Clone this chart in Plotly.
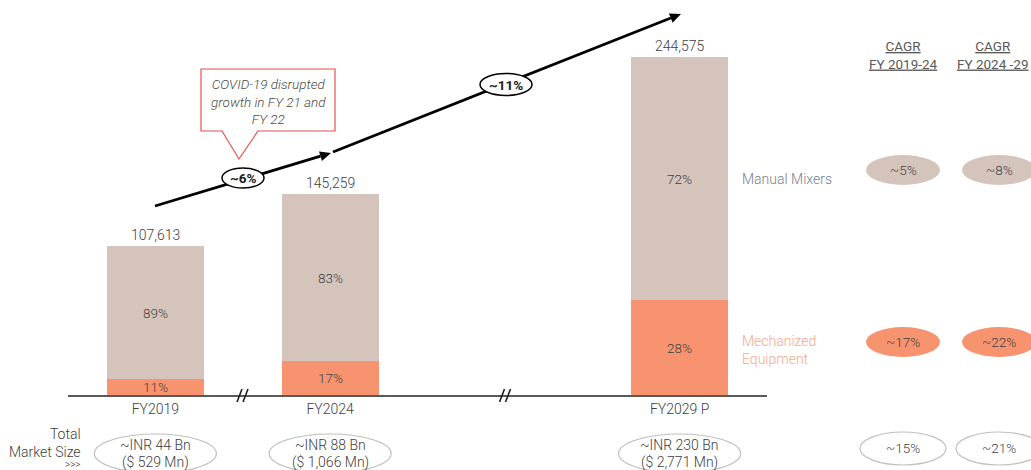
import math
import plotly.graph_objects as go

# ---- data -------------------------------------------------------------
years = ["FY2019", "FY2024", "FY2029 P"]
slots = ["FY2019", "FY2024", "gap", "FY2029 P"]      # "gap" = axis break slot
slot_labels = ["FY2019", "FY2024", "", "FY2029 P"]
totals = [107613, 145259, 244575]                     # total market
mech_share = [11, 17, 28]                             # % Mechanized Equipment
manual_share = [89, 83, 72]                           # % Manual Mixers
inr_size = ["~INR 44 Bn", "~INR 88 Bn", "~INR 230 Bn"]
usd_size = ["($ 529 Mn)", "($ 1,066 Mn)", "($ 2,771 Mn)"]
cagr_periods = ["FY 2019-24", "FY 2024 -29"]
cagr_manual = ["~5%", "~8%"]
cagr_mech = ["~17%", "~22%"]
cagr_total = ["~15%", "~21%"]
overall_cagr = ["~6%", "~11%"]
covid_note = "COVID-19 disrupted<br>growth in FY 21 and<br>FY 22"

mech_vals = [t * s / 100 for t, s in zip(totals, mech_share)]
manual_vals = [t * s / 100 for t, s in zip(totals, manual_share)]

# ---- styling ------------------------------------------------------------
W, H = 1031, 470
FONT = "Roboto"
TXT = "#404040"
TAUPE = "#D5C4BB"
SALMON = "#F8936F"
AXIS = "#595959"
SLOT_PX = 175          # pixel width of one category slot
AXIS_LEFT = 68         # pixel where the category axis starts


def px(x):
    return x / W


def py(y):
    return 1 - y / H


ann = []
shapes = []


def label(text, x, y, xref="paper", yref="paper", size=13.5, color=TXT, weight=300, **kw):
    d = dict(x=x, y=y, xref=xref, yref=yref, text=text, showarrow=False,
             xanchor="center", yanchor="middle",
             font=dict(family=FONT, size=size, color=color, weight=weight))
    d.update(kw)
    ann.append(d)


fig = go.Figure()
fig.add_trace(go.Bar(x=years, y=mech_vals, marker=dict(color=SALMON, line_width=0),
                     width=0.554, hoverinfo="skip", name="Mechanized Equipment"))
fig.add_trace(go.Bar(x=years, y=manual_vals, marker=dict(color=TAUPE, line_width=0),
                     width=0.554, hoverinfo="skip", name="Manual Mixers"))

# segment percentages, totals and market size badges
for i, yr in enumerate(years):
    label(f"{mech_share[i]}%", yr, mech_vals[i] / 2, xref="x", yref="y")
    label(f"{manual_share[i]}%", yr, mech_vals[i] + manual_vals[i] / 2, xref="x", yref="y")
    label(f"{totals[i]:,}", yr, totals[i], xref="x", yref="y", yanchor="bottom", yshift=1, size=14)
    shapes.append(dict(type="circle", xref="x", xsizemode="pixel", xanchor=slots.index(yr),
                       x0=-61, x1=61, yref="paper", y0=py(473), y1=py(434),
                       line=dict(color="#BFBFBF", width=1.2), fillcolor="rgba(0,0,0,0)"))
    label(inr_size[i], yr, py(445), xref="x", size=14)
    label(usd_size[i], yr, py(462), xref="x", size=14)

# axis break marks ("//")
for slot in [0.5, 2]:
    cx = AXIS_LEFT + (slot + 0.5) * SLOT_PX
    for dx in [-3.5, 2.5]:
        shapes.append(dict(type="line", xref="paper", yref="paper",
                           x0=px(cx + dx - 2.5), y0=py(402), x1=px(cx + dx + 2.5), y1=py(389),
                           line=dict(color="#202020", width=1.6)))

# series labels
label("Manual Mixers", px(740), py(179), xanchor="left", color="#78808A", size=14)
label("Mechanized<br>Equipment", px(740), py(350), xanchor="left", align="left",
      color="#F9A88B", size=14)

# left labels
label("Total<br>Market Size", px(83), py(443), xanchor="right", align="right", size=14)
label("&gt;&gt;&gt;", px(83), py(464), xanchor="right", size=10)

# CAGR columns
cagr_x = [903, 999]
for j in range(2):
    cx = cagr_x[j]
    label(f"<u>CAGR</u><br><u>{cagr_periods[j]}</u>", px(min(cx, 993)), py(55), size=13.5,
          color=AXIS, weight=400)
    for val, cy, fill in [(cagr_manual[j], 170, TAUPE), (cagr_mech[j], 342, SALMON)]:
        shapes.append(dict(type="circle", xref="paper", yref="paper",
                           x0=px(cx - 37), x1=px(cx + 37), y0=py(cy + 15), y1=py(cy - 15),
                           line=dict(width=0), fillcolor=fill))
        label(val, px(cx), py(cy))
    shapes.append(dict(type="circle", xref="paper", yref="paper",
                       x0=px(cx - 43), x1=px(cx + 43), y0=py(465), y1=py(432),
                       line=dict(color="#BFBFBF", width=1.2), fillcolor="rgba(0,0,0,0)"))
    label(cagr_total[j], px(cx), py(448))


# growth arrows
def arrow(x0, y0, x1, y1, head=11, half=5):
    ang = math.atan2(y1 - y0, x1 - x0)
    bx, by = x1 - head * math.cos(ang), y1 - head * math.sin(ang)
    nx, ny = -math.sin(ang), math.cos(ang)
    shapes.append(dict(type="line", xref="paper", yref="paper",
                       x0=px(x0), y0=py(y0), x1=px(bx), y1=py(by),
                       line=dict(color="black", width=2.8)))
    path = (f"M {px(x1)},{py(y1)} L {px(bx + half * nx)},{py(by + half * ny)} "
            f"L {px(bx - half * nx)},{py(by - half * ny)} Z")
    shapes.append(dict(type="path", xref="paper", yref="paper", path=path,
                       fillcolor="black", line=dict(width=0)))


arrow(155, 206, 331, 153)
arrow(333, 152, 681, 14)

# CAGR badges on the arrows
for txt, cx, cy, rx, ry in [(overall_cagr[0], 243, 178, 21, 10), (overall_cagr[1], 506, 84.5, 26, 11)]:
    shapes.append(dict(type="circle", xref="paper", yref="paper",
                       x0=px(cx - rx), x1=px(cx + rx), y0=py(cy + ry), y1=py(cy - ry),
                       fillcolor="white", line=dict(color="black", width=1.5)))
    label(txt, px(cx), py(cy), color="#202020", weight=700)

# COVID callout
pts = [(201, 69), (335, 69), (335, 131), (258, 131), (239, 159), (222, 131), (201, 131)]
path = "M " + " L ".join(f"{px(x)},{py(y)}" for x, y in pts) + " Z"
shapes.append(dict(type="path", xref="paper", yref="paper", path=path, fillcolor="white",
                   line=dict(color="#E8504A", width=1.2)))
label(f"<i>{covid_note}</i>", px(268), py(102), size=13.5, color="#4A4A4A")

fig.update_layout(
    width=W, height=H,
    margin=dict(l=0, r=0, t=0, b=0),
    paper_bgcolor="white", plot_bgcolor="white",
    barmode="stack", bargap=0, showlegend=False,
    xaxis=dict(type="category", categoryorder="array", categoryarray=slots,
               tickvals=slots, ticktext=slot_labels,
               domain=[px(AXIS_LEFT), px(AXIS_LEFT + 4 * SLOT_PX - 1)],
               range=[-0.5, 3.5], showline=True, linecolor=AXIS, linewidth=2,
               ticks="", showgrid=False, zeroline=False, fixedrange=True,
               tickfont=dict(family=FONT, size=14, color=TXT, weight=300)),
    yaxis=dict(domain=[py(395), 1], range=[0, 286000], visible=False, fixedrange=True),
    annotations=ann, shapes=shapes,
)

fig.write_html("out.html")
